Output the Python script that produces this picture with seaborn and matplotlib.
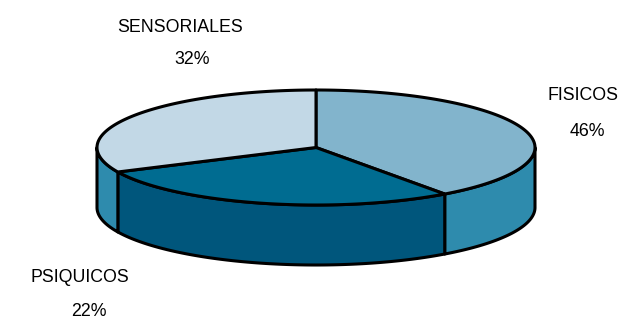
import numpy as np
import matplotlib.pyplot as plt
import seaborn as sns

categories = ["FISICOS", "PSIQUICOS", "SENSORIALES"]
percent_labels = ["46%", "22%", "32%"]
# shares as drawn in the picture, the slices don't follow the printed labels
drawn_shares = [40, 28, 32]
top_colors = ["#82B4CC", "#006C91", "#C2D8E6"]
side_colors = ["#2E8BAD", "#00567C", "#2E8BAD"]

sns.set_theme(style="white")
plt.rcParams['font.family'] = ['Liberation Sans', 'DejaVu Sans']

fig, ax = plt.subplots(figsize=(6.38, 3.23), dpi=100)
ax.set_position([0, 0, 1, 1])
ax.set_xlim(0, 638)
ax.set_ylim(323, 0)
ax.axis('off')

cx, cy = 316, 147.5
rx, ry = 219, 57.5
depth = 60
edge = dict(edgecolor='black', linewidth=2.2, joinstyle='round')


def rim(a, b):
    # a, b = degrees clockwise from 12 o'clock
    t = np.radians(np.linspace(a, b, 120))
    return cx + rx * np.sin(t), cy - ry * np.cos(t)


ends = np.cumsum(drawn_shares) / np.sum(drawn_shares) * 360
starts = np.concatenate([[0], ends[:-1]])

###Side walls, only the front half of the rim shows###
for a, b, col in zip(starts, ends, side_colors):
    a2, b2 = max(a, 90), min(b, 270)
    if a2 >= b2:
        continue
    x, y = rim(a2, b2)
    ax.fill(np.r_[x, x[::-1]], np.r_[y, y[::-1] + depth], facecolor=col, **edge)

###Top slices###
for a, b, col in zip(starts, ends, top_colors):
    x, y = rim(a, b)
    ax.fill(np.r_[cx, x], np.r_[cy, y], facecolor=col, **edge)

###Labels###
name_pos = [(583, 95), (80, 277), (180, 27)]
pct_pos = [(587, 131), (89, 311), (192, 60)]
for name, pct, p1, p2 in zip(categories, percent_labels, name_pos, pct_pos):
    ax.text(p1[0], p1[1], name, ha='center', va='center', fontsize=12.8, color='black')
    ax.text(p2[0], p2[1], pct, ha='center', va='center', fontsize=12.8, color='black')

plt.savefig("out.png", dpi=100)
